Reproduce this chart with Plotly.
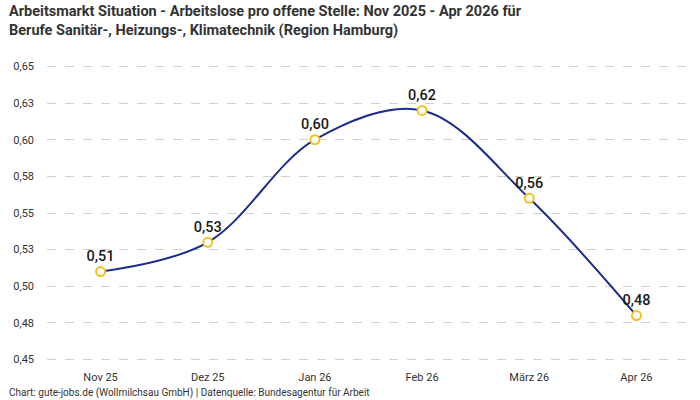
import plotly.graph_objects as go

months = ["Nov 25", "Dez 25", "Jan 26", "Feb 26", "März 26", "Apr 26"]
values = [0.51, 0.53, 0.60, 0.62, 0.56, 0.48]
tick_vals = [0.45, 0.475, 0.50, 0.525, 0.55, 0.575, 0.60, 0.625, 0.65]
tick_text = ["0,45", "0,48", "0,50", "0,53", "0,55", "0,58", "0,60", "0,63", "0,65"]

labels = [f"{v:.2f}".replace(".", ",") for v in values]

FONT = "Roboto, sans-serif"

fig = go.Figure()
fig.add_trace(go.Scatter(
    x=months, y=values,
    mode="lines+markers+text",
    line=dict(color="#1c2c8c", width=2, shape="spline", smoothing=1.0),
    marker=dict(symbol="circle", size=9, color="white",
                line=dict(color="#f5c01a", width=2)),
    text=labels, textposition="top center",
    textfont=dict(family="Roboto, sans-serif", size=14.5, color="#1a1a1a", weight=500),
    cliponaxis=False,
    showlegend=False,
))

pw = 700 - 47 - 10
ph = 400 - 65 - 39

def px_x(x):
    return (x - 47) / pw

def px_y(y):
    return (361 - y) / ph

fig.update_layout(
    width=700, height=400,
    margin=dict(l=47, r=10, t=65, b=39),
    paper_bgcolor="white", plot_bgcolor="white",
    font=dict(family=FONT, size=11, color="#333333"),
    xaxis=dict(
        showgrid=False, showline=False, zeroline=False,
        ticks="", tickfont=dict(family=FONT, size=11, color="#333333"),
        range=[-0.5, 5.5], ticklabelstandoff=8,
    ),
    yaxis=dict(
        range=[0.449, 0.651],
        tickvals=tick_vals, ticktext=tick_text,
        showgrid=True, gridcolor="#d0d0d0", griddash="dash", gridwidth=1,
        zeroline=False, showline=False, ticks="",
        tickfont=dict(family=FONT, size=11, color="#333333"),
        ticklabelstandoff=12,
    ),
    annotations=[
        dict(
            text="<b>Arbeitsmarkt Situation - Arbeitslose pro offene Stelle: Nov 2025 - Apr 2026 für<br>Berufe Sanitär-, Heizungs-, Klimatechnik (Region Hamburg)</b>",
            x=px_x(7), y=px_y(1), xref="paper", yref="paper", showarrow=False,
            xanchor="left", yanchor="top", align="left",
            font=dict(family=FONT, size=14.5, color="#333333"),
        ),
        dict(
            text="Chart: gute-jobs.de (Wollmilchsau GmbH) | Datenquelle: Bundesagentur für Arbeit",
            x=px_x(7), y=px_y(393), xref="paper", yref="paper", showarrow=False,
            xanchor="left", yanchor="middle",
            font=dict(family=FONT, size=10, color="#333333"),
        ),
    ],
)

fig.write_html("out.html")
